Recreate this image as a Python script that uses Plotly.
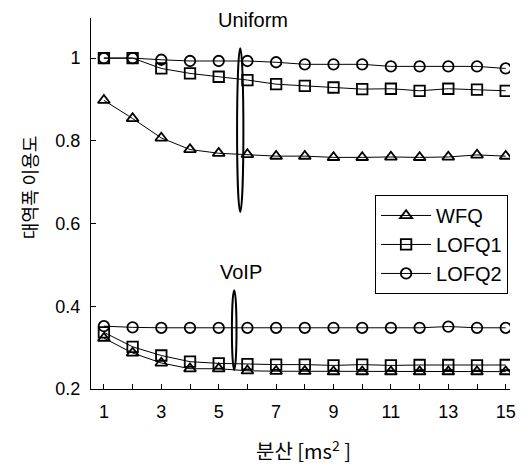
import plotly.graph_objects as go

x_vals = list(range(1, 16))

# Uniform traffic
wfq_uniform = [0.898, 0.854, 0.807, 0.779, 0.770, 0.767, 0.763, 0.763, 0.760, 0.760, 0.761, 0.760, 0.761, 0.766, 0.763]
lofq1_uniform = [1.0, 1.0, 0.975, 0.963, 0.955, 0.947, 0.937, 0.933, 0.929, 0.925, 0.926, 0.921, 0.926, 0.924, 0.921]
lofq2_uniform = [1.0, 1.0, 0.996, 0.993, 0.993, 0.993, 0.990, 0.985, 0.985, 0.985, 0.980, 0.980, 0.980, 0.980, 0.975]

# VoIP traffic
wfq_voip = [0.323, 0.287, 0.263, 0.249, 0.249, 0.244, 0.243, 0.243, 0.242, 0.242, 0.242, 0.242, 0.242, 0.242, 0.242]
lofq1_voip = [0.337, 0.302, 0.281, 0.266, 0.262, 0.260, 0.259, 0.259, 0.257, 0.259, 0.257, 0.258, 0.258, 0.257, 0.258]
lofq2_voip = [0.352, 0.349, 0.348, 0.348, 0.348, 0.348, 0.348, 0.348, 0.348, 0.348, 0.348, 0.348, 0.351, 0.348, 0.348]

x_tick_vals = [1, 3, 5, 7, 9, 11, 13, 15]
x_tick_text = ["1", "3", "5", "7", "9", "11", "13", "15"]
y_tick_vals = [0.2, 0.4, 0.6, 0.8, 1.0]
y_tick_text = ["0.2", "0.4", "0.6", "0.8", "1"]

FONT = "Liberation Sans, Arial, sans-serif"
KFONT = "Noto Sans CJK KR, Liberation Sans, sans-serif"

fig = go.Figure()

series = [
    ("WFQ", wfq_uniform, wfq_voip, "triangle-up-open"),
    ("LOFQ1", lofq1_uniform, lofq1_voip, "square-open"),
    ("LOFQ2", lofq2_uniform, lofq2_voip, "circle-open"),
]
for name, yu, yv, sym in series:
    for i, yy in enumerate((yu, yv)):
        fig.add_trace(go.Scatter(
            x=x_vals, y=yy, mode="lines+markers", name=name,
            showlegend=(i == 0), legendgroup=name,
            line=dict(color="black", width=1),
            marker=dict(symbol=sym, size=10.5, color="black", line=dict(color="black", width=1.8)),
        ))

# bracket loops
fig.add_shape(type="circle", xref="x", yref="y", x0=5.64, x1=5.86, y0=0.628, y1=1.024,
              line=dict(color="black", width=2))
fig.add_shape(type="circle", xref="x", yref="y", x0=5.46, x1=5.62, y0=0.246, y1=0.439,
              line=dict(color="black", width=2))

fig.add_annotation(x=6.2, y=1.092, xref="x", yref="y", text="Uniform", showarrow=False,
                   yanchor="middle",
                   font=dict(family=FONT, size=20, color="black"))
fig.add_annotation(x=5.79, y=0.483, xref="x", yref="y", text="VoIP", showarrow=False,
                   yanchor="middle",
                   font=dict(family=FONT, size=20, color="black"))

fig.add_annotation(x=-0.148, y=0.544, xref="paper", yref="paper", text="대역폭 이용도",
                   textangle=-90, showarrow=False, xanchor="center", yanchor="middle",
                   font=dict(family=KFONT, size=18, color="black"))
fig.add_annotation(x=0.506, y=-0.164, xref="paper", yref="paper",
                   text="분산 [ms<sup>2</sup> ]", showarrow=False,
                   xanchor="center", yanchor="middle",
                   font=dict(family=KFONT, size=20, color="black"))

fig.update_layout(
    width=526, height=465,
    margin=dict(l=91, r=10, t=18, b=76),
    paper_bgcolor="white", plot_bgcolor="white",
    font=dict(family=FONT, size=18, color="black"),
    legend=dict(x=0.678, y=0.523, xanchor="left", yanchor="top",
                bordercolor="black", borderwidth=1, bgcolor="white",
                font=dict(family=FONT, size=20, color="black"),
                tracegroupgap=0, itemwidth=50),
    xaxis=dict(range=[0.55, 15.15], tickvals=x_tick_vals, ticktext=x_tick_text,
               ticks="inside", ticklen=5, tickcolor="black", ticklabelstandoff=6,
               minor=dict(dtick=1, tick0=0, ticks="inside", ticklen=5, tickcolor="black"),
               showline=True, linecolor="black", linewidth=1,
               showgrid=False, zeroline=False,
               tickfont=dict(family=FONT, size=18, color="black")),
    yaxis=dict(range=[0.2, 1.097], tickvals=y_tick_vals, ticktext=y_tick_text,
               ticks="inside", ticklen=5, tickcolor="black", ticklabelstandoff=6,
               showline=True, linecolor="black", linewidth=1,
               showgrid=False, zeroline=False,
               tickfont=dict(family=FONT, size=18, color="black")),
)

fig.write_html("out.html", config={"displayModeBar": False},
               post_script="document.body.style.margin='0';")
